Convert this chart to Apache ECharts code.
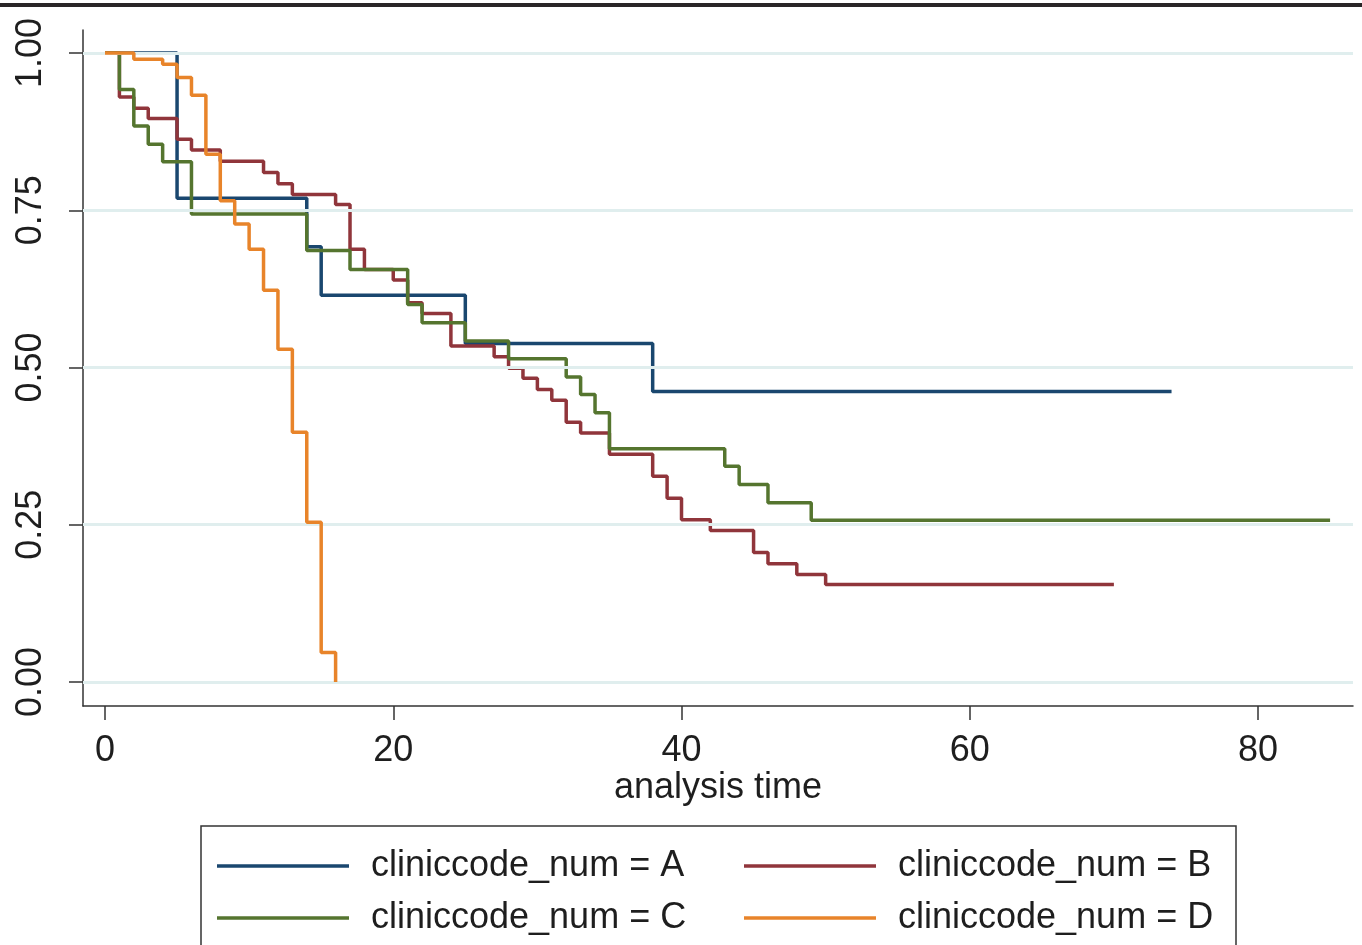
<!DOCTYPE html>
<html>
<head>
<meta charset="utf-8">
<script src="https://cdn.jsdelivr.net/npm/echarts@6/dist/echarts.min.js"></script>
<style>
html,body{margin:0;padding:0;background:#fff;}
#chart{width:1362px;height:945px;}
</style>
</head>
<body>
<div id="chart"></div>
<script>
// Kaplan-Meier step data (time, survival after event)
var timesA = [0, 5, 14, 15, 25, 38, 74];
var survA  = [1, 0.769, 0.692, 0.615, 0.538, 0.462, 0.462];

var timesB = [0, 1, 2, 3, 5, 6, 8, 11, 12, 13, 16, 17, 18, 20, 21, 22, 24, 27, 28, 29, 30, 31, 32, 33, 35, 38, 39, 40, 42, 45, 46, 48, 50, 70];
var survB  = [1, 0.930, 0.912, 0.896, 0.863, 0.846, 0.828, 0.810, 0.792, 0.775, 0.759, 0.688, 0.656, 0.639, 0.603, 0.586, 0.534, 0.517, 0.499, 0.483, 0.465, 0.448, 0.413, 0.396, 0.362, 0.327, 0.292, 0.258, 0.241, 0.206, 0.188, 0.171, 0.155, 0.155];

var timesC = [0, 1, 2, 3, 4, 6, 14, 17, 21, 22, 25, 28, 32, 33, 34, 35, 43, 44, 46, 49, 85];
var survC  = [1, 0.942, 0.884, 0.855, 0.827, 0.744, 0.686, 0.656, 0.600, 0.571, 0.542, 0.514, 0.485, 0.457, 0.428, 0.371, 0.343, 0.314, 0.285, 0.257, 0.257];

var timesD = [0, 2, 4, 5, 6, 7, 8, 9, 10, 11, 12, 13, 14, 15, 16];
var survD  = [1, 0.990, 0.982, 0.961, 0.933, 0.839, 0.765, 0.728, 0.688, 0.623, 0.529, 0.397, 0.254, 0.047, 0];

var seriesNames = ['cliniccode_num = A', 'cliniccode_num = B', 'cliniccode_num = C', 'cliniccode_num = D'];
var seriesColors = ['#1a476f', '#90353b', '#55752f', '#e8842a'];

var xTicks = [0, 20, 40, 60, 80];
var yTicks = [0, 0.25, 0.5, 0.75, 1];
var yTickLabels = ['0.00', '0.25', '0.50', '0.75', '1.00'];
var xTitle = 'analysis time';

var FONT = "'Liberation Sans', Arial, Helvetica, sans-serif";

function zip(t, s) { return t.map(function (v, i) { return [v, s[i]]; }); }

var chart = echarts.init(document.getElementById('chart'), null, { renderer: 'canvas' });

var allTimes = [timesA, timesB, timesC, timesD];
var allSurv = [survA, survB, survC, survD];

var series = [{
  name: '__grid',
  type: 'line',
  data: [],
  silent: true,
  z: 1,
  markLine: {
    silent: true,
    symbol: ['none', 'none'],
    animation: false,
    label: { show: false },
    lineStyle: { type: 'solid', color: '#e0eeee', width: 3 },
    emphasis: { disabled: true },
    data: yTicks.map(function (v) { return { yAxis: v }; })
  }
}];
for (var i = 0; i < 4; i++) {
  series.push({
    name: seriesNames[i],
    type: 'line',
    step: 'end',
    data: zip(allTimes[i], allSurv[i]),
    showSymbol: false,
    symbol: 'none',
    color: seriesColors[i],
    lineStyle: { color: seriesColors[i], width: 3.5 },
    z: 2 + i,
    animation: false
  });
}

var legendCommon = {
  orient: 'horizontal',
  left: 217,
  icon: 'rect',
  itemWidth: 132,
  itemHeight: 3.5,
  itemGap: 53,
  selectedMode: false,
  padding: 0,
  textStyle: {
    fontFamily: FONT, fontSize: 36, color: '#1e1e1e',
    lineHeight: 40, width: 320, padding: [0, 0, 0, 17]
  }
};

var option = {
  backgroundColor: '#ffffff',
  animation: false,
  grid: { left: 83, right: 9, top: 30, bottom: 239, containLabel: false },
  xAxis: {
    type: 'value',
    min: -1.526,
    max: 86.59,
    name: xTitle,
    nameLocation: 'middle',
    nameGap: 64,
    nameMoveOverlap: false,
    nameTextStyle: { fontFamily: FONT, fontSize: 36, color: '#1e1e1e' },
    axisLine: { show: true, onZero: false, lineStyle: { color: '#333', width: 1.5 } },
    axisTick: { show: true, length: 14, customValues: xTicks, lineStyle: { color: '#333', width: 1.5 } },
    axisLabel: { customValues: xTicks, margin: 27, fontFamily: FONT, fontSize: 36, color: '#1e1e1e' },
    splitLine: { show: false }
  },
  yAxis: {
    type: 'value',
    min: -0.0382,
    max: 1.0366,
    axisLine: { show: true, onZero: false, lineStyle: { color: '#333', width: 1.5 } },
    axisTick: { show: true, length: 14, customValues: yTicks, lineStyle: { color: '#333', width: 1.5 } },
    axisLabel: {
      customValues: yTicks,
      rotate: 90,
      margin: 34,
      fontFamily: FONT, fontSize: 36, color: '#1e1e1e',
      formatter: function (v) {
        var idx = yTicks.indexOf(v);
        return idx >= 0 ? yTickLabels[idx] : '';
      }
    },
    splitLine: { show: false }
  },
  legend: [
    Object.assign({}, legendCommon, { top: 846, data: [seriesNames[0], seriesNames[1]] }),
    Object.assign({}, legendCommon, { top: 898, data: [seriesNames[2], seriesNames[3]] })
  ],
  graphic: [
    { type: 'rect', shape: { x: 0, y: 3, width: 1362, height: 4 }, style: { fill: '#2a2627' }, silent: true },
    { type: 'rect', shape: { x: 201, y: 826, width: 1035, height: 200 }, style: { fill: 'none', stroke: '#333', lineWidth: 1.5 }, silent: true }
  ],
  series: series
};

chart.setOption(option);
</script>
</body>
</html>
